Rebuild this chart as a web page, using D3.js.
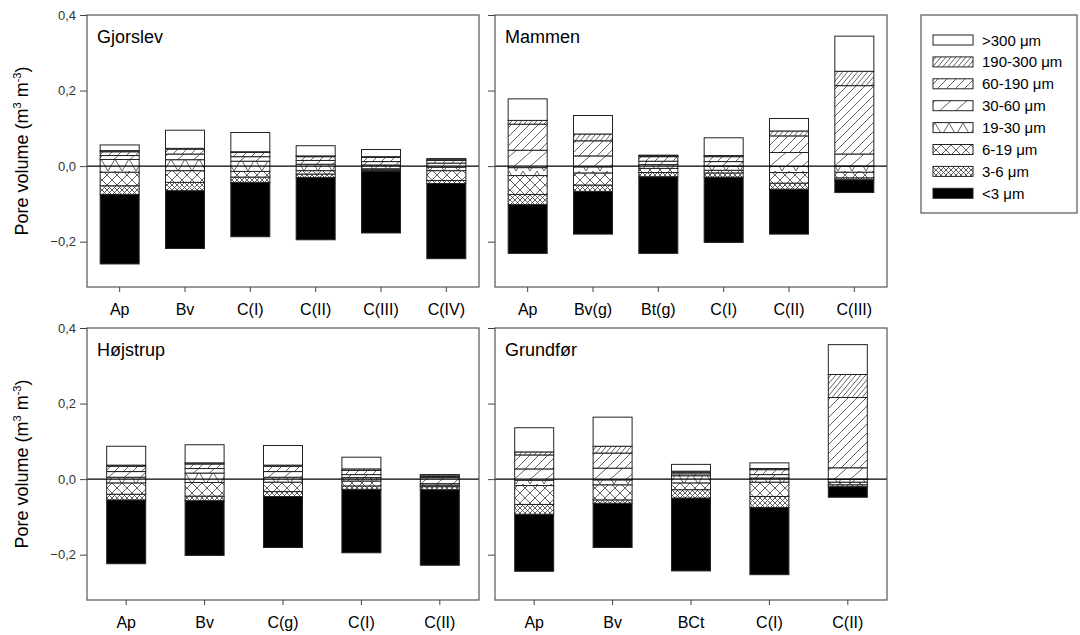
<!DOCTYPE html>
<html><head><meta charset="utf-8">
<script src="https://cdn.jsdelivr.net/npm/d3@7"></script>
<style>body{margin:0;background:#fff}svg{display:block;font-family:"Liberation Sans",Arial,sans-serif}</style>
</head><body>
<script>
// Pore classes, stacking order bottom -> top
const classKeys = ["<3", "3-6", "6-19", "19-30", "30-60", "60-190", "190-300", ">300"];
const legendLabels = [">300 μm", "190-300 μm", "60-190 μm", "30-60 μm", "19-30 μm", "6-19 μm", "3-6 μm", "<3 μm"];
const yTicks = [-0.2, 0.0, 0.2, 0.4];

// Gjorslev
const gjorslevHorizons = ["Ap", "Bv", "C(I)", "C(II)", "C(III)", "C(IV)"];
const gjorslevBase = [-0.259, -0.218, -0.187, -0.195, -0.177, -0.245];
const gjorslevVol = [
  [0.184, 0.153, 0.144, 0.165, 0.164, 0.199],
  [0.023, 0.022, 0.014, 0.009, 0.003, 0.008],
  [0.036, 0.031, 0.015, 0.009, 0.003, 0.026],
  [0.0335, 0.029, 0.027, 0.017, 0.010, 0.009],
  [0.0105, 0.015, 0.012, 0.010, 0.009, 0.011],
  [0.010, 0.013, 0.011, 0.010, 0.011, 0.007],
  [0.003, 0.002, 0.002, 0.002, 0.002, 0.002],
  [0.015, 0.048, 0.051, 0.027, 0.019, 0.003]
];
// Mammen
const mammenHorizons = ["Ap", "Bv(g)", "Bt(g)", "C(I)", "C(II)", "C(III)"];
const mammenBase = [-0.231, -0.180, -0.231, -0.202, -0.180, -0.070];
const mammenVol = [
  [0.129, 0.113, 0.203, 0.173, 0.119, 0.034],
  [0.027, 0.017, 0.011, 0.011, 0.016, 0.005],
  [0.050, 0.032, 0.011, 0.007, 0.028, 0.015],
  [0.021, 0.016, 0.010, 0.011, 0.016, 0.016],
  [0.046, 0.029, 0.009, 0.012, 0.037, 0.032],
  [0.069, 0.040, 0.012, 0.013, 0.044, 0.181],
  [0.010, 0.018, 0.002, 0.003, 0.013, 0.038],
  [0.057, 0.049, 0.002, 0.047, 0.033, 0.093]
];
// Højstrup
const hojstrupHorizons = ["Ap", "Bv", "C(g)", "C(I)", "C(II)"];
const hojstrupBase = [-0.224, -0.202, -0.181, -0.195, -0.228];
const hojstrupVol = [
  [0.169, 0.145, 0.135, 0.168, 0.200],
  [0.015, 0.012, 0.013, 0.009, 0.008],
  [0.030, 0.036, 0.025, 0.013, 0.004],
  [0.015, 0.025, 0.013, 0.009, 0.004],
  [0.015, 0.012, 0.015, 0.008, 0.016],
  [0.014, 0.012, 0.014, 0.011, 0.003],
  [0.003, 0.003, 0.003, 0.004, 0.004],
  [0.050, 0.048, 0.052, 0.031, 0.001]
];
// Grundfør
const grundforHorizons = ["Ap", "Bv", "BCt", "C(I)", "C(II)"];
const grundforBase = [-0.244, -0.181, -0.243, -0.253, -0.048];
const grundforVol = [
  [0.151, 0.117, 0.193, 0.178, 0.028],
  [0.026, 0.009, 0.022, 0.029, 0.005],
  [0.050, 0.040, 0.018, 0.038, 0.007],
  [0.014, 0.013, 0.019, 0.011, 0.008],
  [0.030, 0.031, 0.005, 0.009, 0.030],
  [0.037, 0.040, 0.004, 0.013, 0.186],
  [0.008, 0.018, 0.003, 0.003, 0.061],
  [0.064, 0.077, 0.018, 0.015, 0.079]
];

const panels = [
  {title: "Gjorslev", cats: gjorslevHorizons, base: gjorslevBase, vol: gjorslevVol, x: 87, y: 15, labels: true},
  {title: "Mammen", cats: mammenHorizons, base: mammenBase, vol: mammenVol, x: 495, y: 15, labels: false},
  {title: "Højstrup", cats: hojstrupHorizons, base: hojstrupBase, vol: hojstrupVol, x: 87, y: 328, labels: true},
  {title: "Grundfør", cats: grundforHorizons, base: grundforBase, vol: grundforVol, x: 495, y: 328, labels: false}
];
const PW = 392, PH = 272, BAR_W = 39;

const svg = d3.select("body").append("svg").attr("width", 1080).attr("height", 635);
const defs = svg.append("defs");
const pc = "#3a3a3a", pw = 0.8;
function pat(id, w, h, d) {
  const p = defs.append("pattern").attr("id", id).attr("patternUnits", "userSpaceOnUse")
    .attr("width", w).attr("height", h);
  p.append("rect").attr("width", w).attr("height", h).attr("fill", "#fff");
  p.append("path").attr("d", d).attr("stroke", pc).attr("stroke-width", pw).attr("fill", "none");
}
pat("p190", 5, 6, "M-5,6L0,0M0,6L5,0M5,6L10,0");
pat("p60", 9, 9, "M-9,9L0,0M0,9L9,0M9,9L18,0");
pat("p30", 16, 14, "M-16,14L0,0M0,14L16,0M16,14L32,0");
pat("p19", 14, 12, "M0,0L7,12L14,0");
pat("p6", 10, 10, "M0,0L10,10M10,0L0,10");
pat("p3", 5, 5, "M0,0L5,5M5,0L0,5");
const fills = {"<3": "#000", "3-6": "url(#p3)", "6-19": "url(#p6)", "19-30": "url(#p19)",
  "30-60": "url(#p30)", "60-190": "url(#p60)", "190-300": "url(#p190)", ">300": "#fff"};

const y = d3.scaleLinear().domain([-0.32, 0.4]).range([PH, 0]);
const fmt = v => d3.format(".1f")(v).replace(".", ",");

panels.forEach(P => {
  const g = svg.append("g").attr("transform", `translate(${P.x},${P.y})`);
  const x = d3.scaleBand().domain(P.cats).range([0, PW]);
  const rows = P.cats.map((c, j) => {
    const r = {cat: c, j: j};
    classKeys.forEach((k, i) => r[k] = P.vol[i][j]);
    return r;
  });
  const stack = d3.stack().keys(classKeys).offset((series, order) => {
    for (let j = 0; j < series[0].length; j++) {
      let y0 = P.base[j];
      for (const i of order) {
        const v = series[i][j][1] - series[i][j][0];
        series[i][j][0] = y0; y0 += v; series[i][j][1] = y0;
      }
    }
  });
  const series = stack(rows);
  series.forEach(s => {
    g.selectAll(null).data(s).join("rect")
      .attr("x", d => x(d.data.cat) + x.bandwidth() / 2 - BAR_W / 2)
      .attr("width", BAR_W)
      .attr("y", d => y(d[1]))
      .attr("height", d => Math.max(0, y(d[0]) - y(d[1])))
      .attr("fill", fills[s.key])
      .attr("stroke", "#222").attr("stroke-width", 1);
  });
  // zero line
  g.append("line").attr("x1", 0).attr("x2", PW).attr("y1", y(0)).attr("y2", y(0))
    .attr("stroke", "#000").attr("stroke-width", 1.2);
  // frame
  g.append("rect").attr("width", PW).attr("height", PH).attr("fill", "none")
    .attr("stroke", "#555").attr("stroke-width", 1.2);
  // y axis
  const ya = g.append("g").call(d3.axisLeft(y).tickValues(yTicks).tickSize(7)
    .tickFormat(P.labels ? fmt : ""));
  ya.select(".domain").remove();
  ya.selectAll("line").attr("stroke", "#444");
  ya.selectAll("text").attr("font-size", 13).attr("fill", "#333").attr("x", -11)
    .attr("font-family", "Liberation Sans, Arial, sans-serif");
  // x axis
  const xa = g.append("g").attr("transform", `translate(0,${PH})`)
    .call(d3.axisBottom(x).tickSize(5).tickPadding(12));
  xa.select(".domain").remove();
  xa.selectAll("line").attr("stroke", "#444");
  xa.selectAll("text").attr("font-size", 16).attr("fill", "#000")
    .attr("font-family", "Liberation Sans, Arial, sans-serif");
  // title
  g.append("text").attr("x", 10).attr("y", 28).attr("font-size", 18).text(P.title);
  // y title
  if (P.labels) {
    const t = svg.append("text").attr("transform", `translate(28,${P.y + PH / 2}) rotate(-90)`)
      .attr("text-anchor", "middle").attr("font-size", 18);
    t.append("tspan").text("Pore volume (m");
    t.append("tspan").attr("font-size", 11).attr("dy", -7).text("3");
    t.append("tspan").attr("dy", 7).text(" m");
    t.append("tspan").attr("font-size", 11).attr("dy", -7).text("-3");
    t.append("tspan").attr("dy", 7).text(")");
  }
});

// legend
const lg = svg.append("g").attr("transform", "translate(921,15)");
lg.append("rect").attr("width", 156).attr("height", 198).attr("fill", "#fff")
  .attr("stroke", "#555").attr("stroke-width", 1.2);
const legendKeys = classKeys.slice().reverse();
legendKeys.forEach((k, i) => {
  const cy = 25 + i * 21.9;
  lg.append("rect").attr("x", 12).attr("y", cy - 5).attr("width", 40).attr("height", 10)
    .attr("fill", fills[k]).attr("stroke", "#222").attr("stroke-width", 1);
  lg.append("text").attr("x", 61).attr("y", cy + 5.5).attr("font-size", 15).text(legendLabels[i]);
});
</script>
</body></html>
